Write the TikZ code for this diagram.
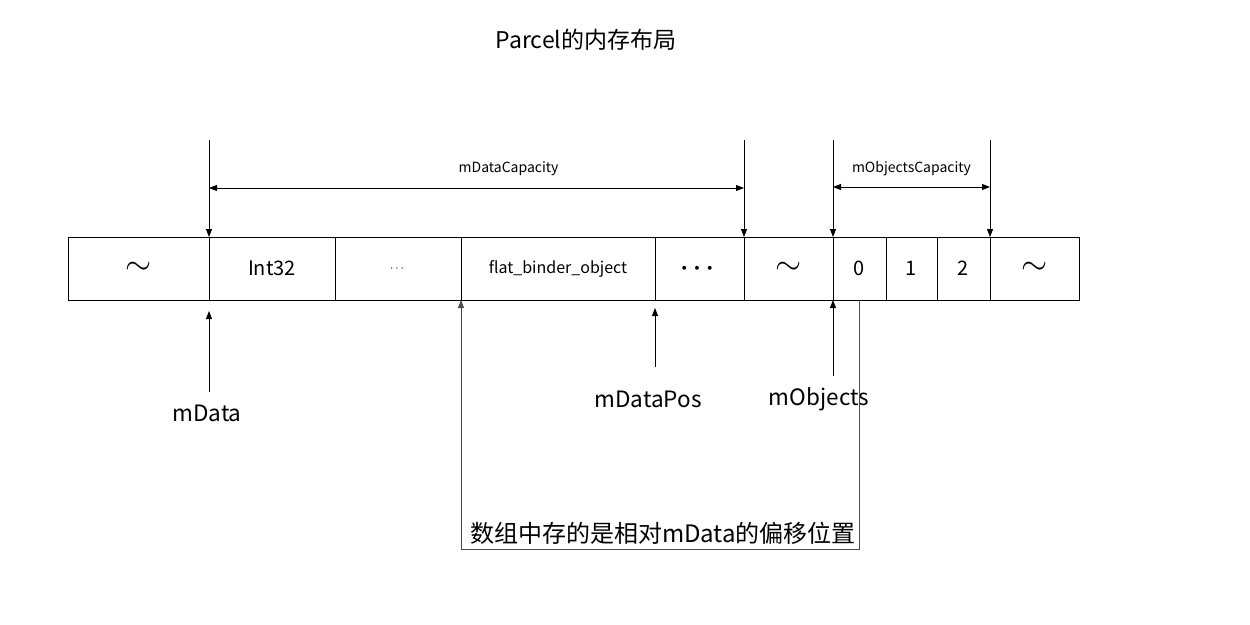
\documentclass[tikz,border=0pt]{standalone}
\usepackage{fontspec}
\usepackage{amsmath}
\usepackage{tikz}
\usetikzlibrary{arrows, arrows.meta, positioning, calc}
\newfontfamily\cjkfont{Noto Sans CJK SC}
\newcommand{\wave}{\scalebox{1.35}{\fontsize{24}{24}\selectfont$\sim$}}

\begin{document}
\begin{tikzpicture}[
                x=1pt, y=-1pt,
                node distance = 0pt,
                >={Triangle[length=8pt, width=6pt]},
                cell/.style = {draw, line width=0.8pt, minimum height=63pt, inner sep=0pt, outer sep=0pt, font=\cjkfont\fontsize{20}{24}\selectfont},
                label/.style = {inner sep=0pt, font=\cjkfont\fontsize{22.5}{26}\selectfont},
                small/.style = {inner sep=0pt, font=\cjkfont\fontsize{14}{16}\selectfont},
                arrow/.style = {->, line width=0.8pt}
              ]
              \useasboundingbox (0,0) rectangle (1250,624);
              % Title
              \node[label, font=\cjkfont\fontsize{23}{27}\selectfont] (title) at (586,40) {Parcel的内存布局};
              % Cells
              \node[cell, minimum width=141pt, anchor=north west] (c0) at (68,237) {\wave};
              \node[cell, minimum width=126pt, right=of c0] (c1) {Int32};
              \node[cell, minimum width=126pt, right=of c1] (c2) {\fontsize{13}{13}\selectfont$\cdots$};
              \node[cell, minimum width=194pt, right=of c2, font=\cjkfont\fontsize{16}{18}\selectfont] (c3) {flat\_binder\_object};
              \node[cell, minimum width=89pt, right=of c3] (c4) {\fontsize{26}{26}\selectfont$\boldsymbol{\cdots}$};
              \node[cell, minimum width=89pt, right=of c4] (c5) {\wave};
              \node[cell, minimum width=53pt, right=of c5] (c6) {0};
              \node[cell, minimum width=51pt, right=of c6] (c7) {1};
              \node[cell, minimum width=53pt, right=of c7] (c8) {2};
              \node[cell, minimum width=89pt, right=of c8] (c9) {\wave};
              % Capacity markers
              \coordinate (t0) at (209,140);
              \coordinate (t1) at (744,140);
              \coordinate (t2) at (833,140);
              \coordinate (t3) at (990,140);
              \draw[arrow] (t0) -- (c0.north east);
              \draw[arrow] (t1) -- (c4.north east);
              \draw[arrow] (t2) -- (c5.north east);
              \draw[arrow] (t3) -- (c8.north east);
              \coordinate (dl) at (209,188);
              \coordinate (dr) at (744,188);
              \coordinate (ol) at (833,187);
              \coordinate (or) at (990,187);
              \draw[<->, line width=0.8pt] (dl) -- node[small, pos=0.56, above=12pt] {mDataCapacity} (dr);
              \draw[<->, line width=0.8pt] (ol) -- node[small, midway, above=11pt] {mObjectsCapacity} (or);
              % Pointers
              \node[label] (mdata) at (207,413) {mData};
              \node[label] (mdatapos) at (648,399) {mDataPos};
              \node[label] (mobjects) at (819,399) {mObjects};
              \coordinate (p0) at (209,392);
              \coordinate (p1) at (655,367);
              \coordinate (p2) at (833,376);
              \draw[arrow, shorten >=11pt] (p0) -- (c0.south east);
              \draw[arrow, shorten >=8pt] (p1) -- (c3.south east);
              \draw[arrow] (p2) -- (c5.south east);
              % Offsets
              \node[inner sep=0pt, font=\cjkfont\fontsize{24}{28}\selectfont] (note) at (663,533) {数组中存的是相对mData的偏移位置};
              \draw[arrow, black!70] (c6.south) -- ++(0,249) -| (c3.south west);
            \end{tikzpicture}
\end{document}
